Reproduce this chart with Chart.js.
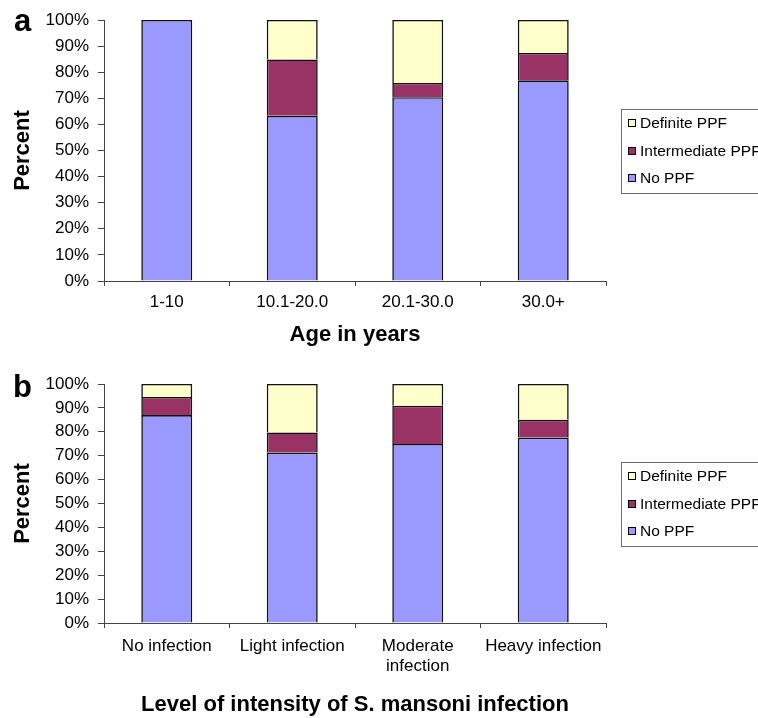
<!DOCTYPE html>
<html>
<head>
<meta charset="utf-8">
<script src="https://cdn.jsdelivr.net/npm/chart.js@4.4.0/dist/chart.umd.min.js"></script>
<style>
  html, body { margin: 0; padding: 0; background: #fff; overflow: hidden; }
  .wrap { position: absolute; left: 0; width: 758px; }
  #wa { top: 0; height: 360px; }
  #wb { top: 360px; height: 358px; }
</style>
</head>
<body>
<div class="wrap" id="wa"><canvas id="chartA" width="758" height="360"></canvas></div>
<div class="wrap" id="wb"><canvas id="chartB" width="758" height="358"></canvas></div>
<script>
const FONT = "'Liberation Sans', Arial, Helvetica, sans-serif";

// ── data ─────────────────────────────────────────
const seriesNames  = ['No PPF', 'Intermediate PPF', 'Definite PPF'];
const seriesColors = ['#9999ff', '#993366', '#ffffcc'];

const ageLabels       = ['1-10', '10.1-20.0', '20.1-30.0', '30.0+'];
const ageNoPPF        = [100, 63.3, 70.4, 76.9];
const ageIntermediate = [0, 21.6, 5.5, 10.5];
const ageDefinite     = [0, 15.1, 24.1, 12.6];

const infLabels       = ['No infection', 'Light infection', ['Moderate', 'infection'], 'Heavy infection'];
const infNoPPF        = [87.0, 71.3, 74.9, 77.6];
const infIntermediate = [7.6, 8.4, 16.0, 7.4];
const infDefinite     = [5.4, 20.3, 9.1, 15.0];

// ── plugins ──────────────────────────────────────
// bordered legend to the right of the plot (cut off by the page edge like the original)
const boxLegend = {
  id: 'boxLegend',
  afterDraw(chart) {
    const { ctx, chartArea: ca } = chart;
    const left = Math.round(ca.right + 15);
    const mid  = (ca.top + ca.bottom) / 2;
    const h = 84, pitch = 27.5;
    ctx.save();
    ctx.strokeStyle = '#6b6b6b';
    ctx.lineWidth = 1;
    ctx.strokeRect(left + 0.5, Math.round(mid - h / 2) + 0.5, 200, h);
    ctx.font = '15.5px ' + FONT;
    ctx.textBaseline = 'middle';
    const items = chart.data.datasets.slice().reverse();
    items.forEach((d, i) => {
      const y = Math.round(mid + (i - 1) * pitch);
      ctx.fillStyle = d.backgroundColor;
      ctx.fillRect(left + 7, y - 4, 8, 8);
      ctx.strokeStyle = '#000';
      ctx.strokeRect(left + 7.5, y - 3.5, 7, 7);
      ctx.fillStyle = '#000';
      ctx.fillText(d.label, left + 19, y + 1);
    });
    ctx.restore();
  }
};

// panel letter (a / b) in the top-left corner
const panelLetter = {
  id: 'panelLetter',
  afterDraw(chart, args, opts) {
    const { ctx } = chart;
    ctx.save();
    ctx.font = 'bold 31px ' + FONT;
    ctx.fillStyle = '#000';
    ctx.textBaseline = 'alphabetic';
    ctx.fillText(opts.text, opts.x, opts.y);
    ctx.restore();
  }
};

function makeChart(id, labels, noPPF, inter, definite, cfg) {
  const values = [noPPF, inter, definite];
  return new Chart(document.getElementById(id), {
    type: 'bar',
    data: {
      labels,
      datasets: seriesNames.map((name, i) => ({
        label: name,
        data: values[i],
        backgroundColor: seriesColors[i],
        borderColor: '#111',
        borderWidth: 1.6,
        borderSkipped: 'start',   // each segment: top + sides only, so joins are a single line
        barPercentage: 0.406,
        categoryPercentage: 1
      }))
    },
    options: {
      responsive: false,
      animation: false,
      layout: { padding: { top: cfg.top, right: 152, left: 0, bottom: 0 } },
      plugins: {
        legend: { display: false },
        tooltip: { enabled: false },
        panelLetter: { text: cfg.letter, x: cfg.letterX, y: cfg.letterY }
      },
      scales: {
        x: {
          stacked: true,
          grid: { drawOnChartArea: false, tickLength: 5, color: '#444', offset: true },
          border: { color: '#444', width: 1 },
          ticks: {
            color: '#000', padding: cfg.xTickPad, maxRotation: 0, autoSkip: false,
            font: { size: 17, family: FONT, lineHeight: 1.2 }
          },
          title: {
            display: true, text: cfg.xTitle, color: '#000',
            font: { size: 22, weight: 'bold', family: FONT, lineHeight: 1.2 },
            padding: { top: 0, bottom: cfg.xTitlePad }
          },
          afterFit: s => { s.height = cfg.xHeight; }
        },
        y: {
          stacked: true,
          min: 0, max: 100,
          grid: { drawOnChartArea: false, tickLength: 6, color: '#444' },
          border: { color: '#444', width: 1 },
          ticks: {
            stepSize: 10, color: '#000', padding: 9,
            font: { size: 17, family: FONT },
            callback: v => v + '%'
          },
          title: {
            display: true, text: 'Percent', color: '#000',
            font: { size: 22, weight: 'bold', family: FONT, lineHeight: 1.2 },
            padding: { top: 10, bottom: 0 }
          },
          afterFit: s => { s.width = 104; }
        }
      }
    },
    plugins: [boxLegend, panelLetter]
  });
}

makeChart('chartA', ageLabels, ageNoPPF, ageIntermediate, ageDefinite, {
  top: 20, xHeight: 79, xTickPad: 6, xTitle: 'Age in years', xTitlePad: 12,
  letter: 'a', letterX: 14, letterY: 31
});

makeChart('chartB', infLabels, infNoPPF, infIntermediate, infDefinite, {
  top: 24, xHeight: 95, xTickPad: 8, xTitle: 'Level of intensity of S. mansoni infection', xTitlePad: 0,
  letter: 'b', letterX: 13, letterY: 37
});
</script>
</body>
</html>
